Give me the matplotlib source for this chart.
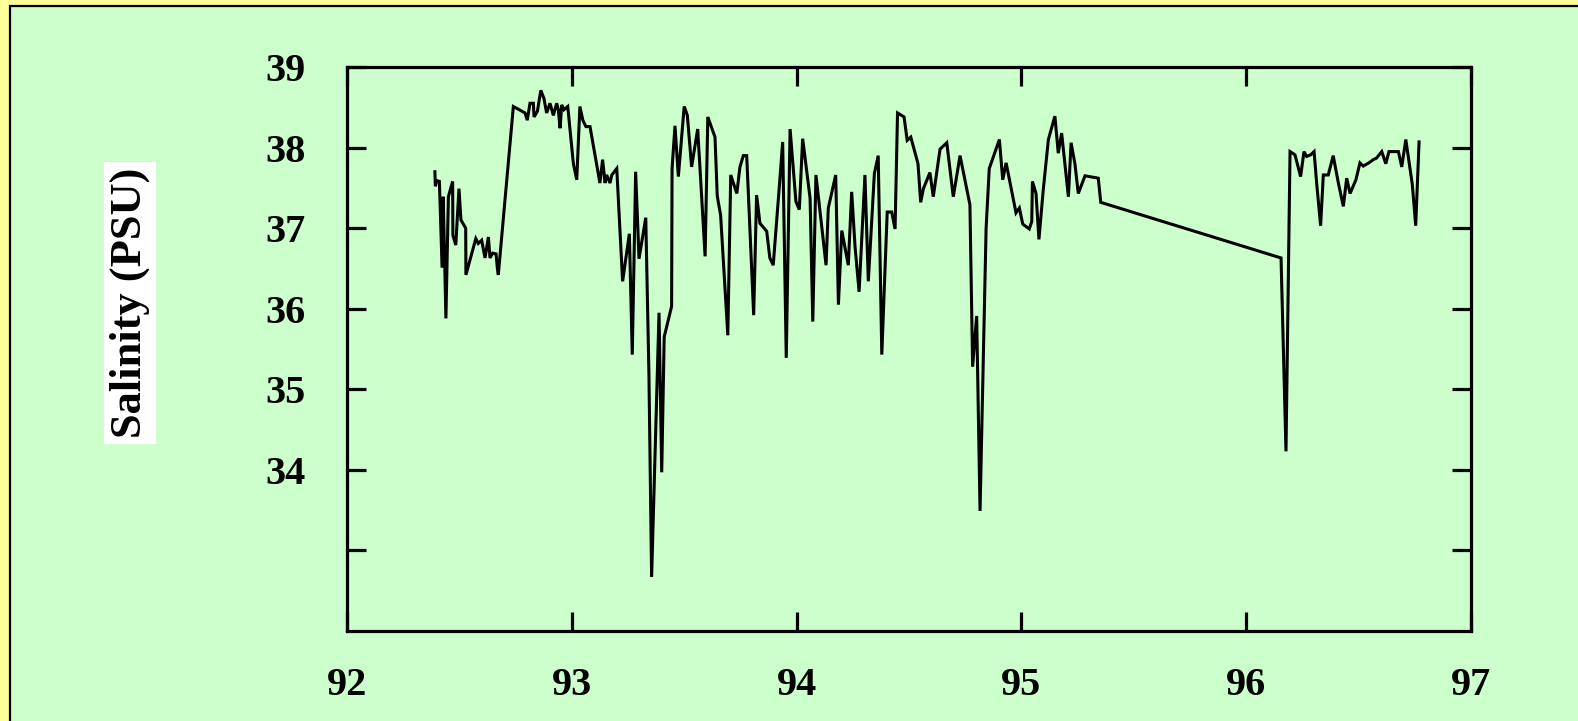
import matplotlib
matplotlib.use("Agg")
import matplotlib.pyplot as plt
from matplotlib.patches import Rectangle

# salinity record, decimal year vs PSU
year = [
    92.391, 92.393, 92.399, 92.411, 92.423, 92.428, 92.440, 92.451, 92.470, 92.471,
    92.484, 92.498, 92.507, 92.528, 92.529, 92.573, 92.584, 92.599, 92.614, 92.629,
    92.636, 92.648, 92.663, 92.669, 92.673, 92.740, 92.792, 92.802, 92.814, 92.829,
    92.832, 92.847, 92.862, 92.876, 92.888, 92.903, 92.918, 92.933, 92.940, 92.948,
    92.955, 92.965, 92.982, 93.007, 93.022, 93.036, 93.049, 93.063, 93.081, 93.125,
    93.137, 93.148, 93.155, 93.170, 93.178, 93.200, 93.226, 93.256, 93.269, 93.284,
    93.299, 93.329, 93.343, 93.355, 93.388, 93.400, 93.411, 93.444, 93.446, 93.459,
    93.474, 93.500, 93.514, 93.533, 93.560, 93.593, 93.605, 93.637, 93.647, 93.662,
    93.694, 93.707, 93.734, 93.748, 93.763, 93.778, 93.809, 93.822, 93.837, 93.867,
    93.881, 93.896, 93.926, 93.938, 93.954, 93.971, 93.997, 94.012, 94.027, 94.060,
    94.072, 94.086, 94.131, 94.141, 94.174, 94.186, 94.201, 94.230, 94.245, 94.260,
    94.278, 94.304, 94.319, 94.346, 94.363, 94.379, 94.403, 94.423, 94.438, 94.449,
    94.478, 94.492, 94.508, 94.540, 94.552, 94.564, 94.593, 94.608, 94.638, 94.668,
    94.697, 94.727, 94.771, 94.783, 94.801, 94.816, 94.843, 94.857, 94.902, 94.917,
    94.932, 94.976, 94.991, 95.006, 95.035, 95.046, 95.049, 95.065, 95.078, 95.097,
    95.120, 95.149, 95.164, 95.179, 95.209, 95.221, 95.238, 95.253, 95.283, 95.342,
    95.353, 96.155, 96.177, 96.195, 96.217, 96.242, 96.257, 96.269, 96.287, 96.302,
    96.314, 96.331, 96.343, 96.365, 96.387, 96.410, 96.432, 96.447, 96.462, 96.488,
    96.506, 96.521, 96.551, 96.565, 96.580, 96.603, 96.621, 96.635, 96.677, 96.692,
    96.710, 96.739, 96.754, 96.769,
]
salinity = [
    37.70, 37.52, 37.59, 37.58, 36.51, 37.39, 35.88, 37.39, 37.58, 36.91,
    36.79, 37.49, 37.10, 37.00, 36.42, 36.87, 36.81, 36.85, 36.63, 36.89,
    36.63, 36.69, 36.68, 36.50, 36.42, 38.51, 38.43, 38.34, 38.55, 38.55,
    38.38, 38.45, 38.71, 38.61, 38.43, 38.55, 38.40, 38.55, 38.47, 38.24,
    38.53, 38.47, 38.51, 37.80, 37.60, 38.51, 38.34, 38.26, 38.26, 37.56,
    37.85, 37.56, 37.66, 37.56, 37.66, 37.74, 36.34, 36.93, 35.43, 37.70,
    36.62, 37.13, 35.21, 32.67, 35.95, 33.97, 35.65, 36.03, 37.74, 38.27,
    37.64, 38.51, 38.40, 37.76, 38.23, 36.65, 38.38, 38.13, 37.40, 37.16,
    35.67, 37.66, 37.43, 37.76, 37.90, 37.90, 35.92, 37.41, 37.06, 36.96,
    36.63, 36.54, 37.62, 38.07, 35.39, 38.23, 37.33, 37.23, 38.11, 37.37,
    35.84, 37.66, 36.54, 37.25, 37.66, 36.05, 36.97, 36.54, 37.45, 36.77,
    36.21, 37.66, 36.34, 37.68, 37.90, 35.43, 37.20, 37.20, 36.99, 38.43,
    38.38, 38.09, 38.13, 37.80, 37.32, 37.49, 37.69, 37.39, 37.98, 38.06,
    37.39, 37.90, 37.29, 35.28, 35.91, 33.49, 37.00, 37.74, 38.10, 37.60,
    37.81, 37.19, 37.25, 37.05, 36.99, 37.08, 37.58, 37.43, 36.86, 37.47,
    38.10, 38.39, 37.93, 38.18, 37.39, 38.06, 37.80, 37.43, 37.65, 37.62,
    37.32, 36.63, 34.23, 37.95, 37.91, 37.64, 37.95, 37.89, 37.91, 37.95,
    37.54, 37.03, 37.66, 37.66, 37.90, 37.56, 37.27, 37.62, 37.43, 37.60,
    37.81, 37.77, 37.82, 37.85, 37.87, 37.95, 37.80, 37.95, 37.95, 37.76,
    38.10, 37.54, 37.03, 38.07,
]

xticks = [92, 93, 94, 95, 96, 97]
yticks = [33, 34, 35, 36, 37, 38, 39]
ytick_labels = ["", "34", "35", "36", "37", "38", "39"]

YELLOW = "#FFFF99"
GREEN = "#CCFFCC"
W, H = 1578, 721

fig = plt.figure(figsize=(W / 100, H / 100), dpi=100, facecolor=YELLOW)

# green panel with black frame, running off the right and bottom edges
panel = Rectangle((10 / W, -0.05), 1.2, 1.05 - 6 / H, transform=fig.transFigure,
                  facecolor=GREEN, edgecolor="black", linewidth=1.6, zorder=-1)
fig.patches.append(panel)

ax = fig.add_axes([347 / W, 90 / H, 1124 / W, 564 / H])
ax.set_facecolor(GREEN)
ax.plot(year, salinity, color="black", linewidth=2.2, solid_joinstyle="miter")

ax.set_xlim(92, 97)
ax.set_ylim(32, 39)
ax.set_xticks(xticks)
ax.set_xticklabels([str(t) for t in xticks])
ax.set_yticks(yticks)
ax.set_yticklabels(ytick_labels)

for s in ax.spines.values():
    s.set_linewidth(2.3)
    s.set_color("black")

ax.tick_params(direction="in", length=13.5, width=2.3, top=True, right=True)
ax.tick_params(axis="y", pad=30)
ax.tick_params(axis="x", pad=26)
for lab in ax.get_xticklabels() + ax.get_yticklabels():
    lab.set_fontfamily("Liberation Serif")
    lab.set_fontweight("bold")
    lab.set_fontsize(29)

fig.text(130 / W, 1 - 303 / H, "Salinity (PSU)", rotation=90,
         ha="center", va="center", fontsize=32, fontfamily="Liberation Serif",
         fontweight="bold", color="black",
         bbox=dict(boxstyle="square,pad=0.12", facecolor="white", edgecolor="none"))

fig.savefig("out.png", dpi=100, facecolor=YELLOW)
